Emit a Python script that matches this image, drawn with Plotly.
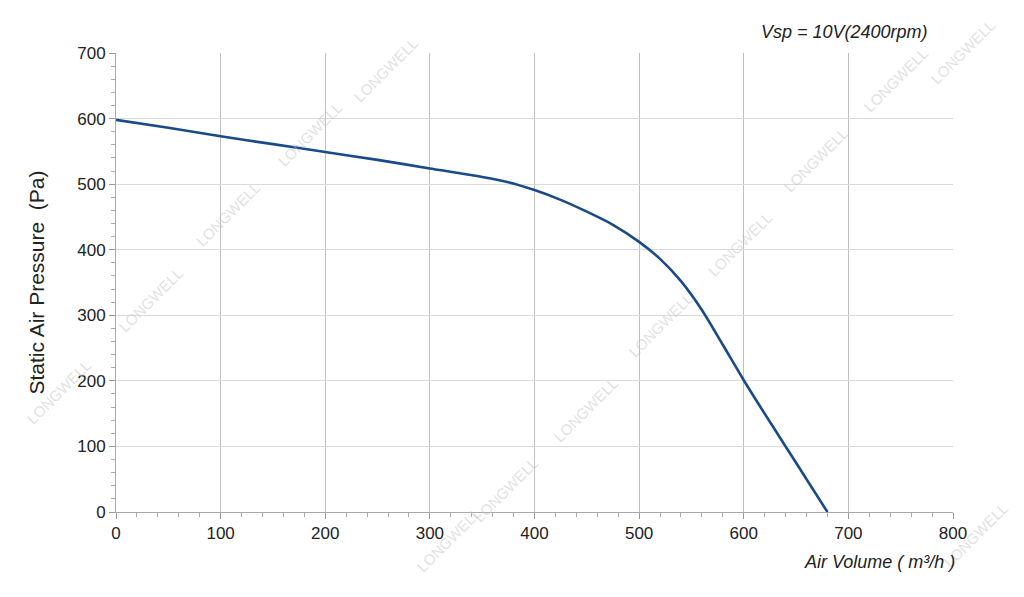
import plotly.graph_objects as go

air_volume = [0, 50, 100, 150, 200, 250, 300, 350, 375, 400, 425, 450, 475, 500, 520, 540, 560, 580, 600, 620, 640, 660, 680]
pressure = [598, 586, 573, 561, 549, 537, 524, 511, 503, 491, 476, 458, 438, 412, 386, 352, 308, 255, 201, 150, 100, 50, 0]

x_ticks = [0, 100, 200, 300, 400, 500, 600, 700, 800]
y_ticks = [0, 100, 200, 300, 400, 500, 600, 700]

# page geometry (body has 8px margin)
W, H = 1008, 581
L, R, T, B = 108, 63, 45, 77
PL, PR, PT, PB = 116, 953, 53, 512  # plot area in screenshot coords


def px2paper(px, py):
    return (px - PL) / (PR - PL), (PB - py) / (PB - PT)


fig = go.Figure()
fig.add_trace(go.Scatter(
    x=air_volume, y=pressure, mode="lines",
    line=dict(color="#1a4a8a", width=2.6, shape="spline", smoothing=0.7),
    showlegend=False, hoverinfo="skip"))

font = "Liberation Sans, Arial, sans-serif"

# faint watermarks
wm = [(58, 392), (150, 300), (228, 215), (310, 135), (385, 70),
      (448, 540), (505, 490), (585, 410), (660, 325), (740, 245), (815, 160), (895, 80), (962, 52),
      (975, 535)]
for (px, py) in wm:
    ax, ay = px2paper(px, py)
    fig.add_annotation(x=ax, y=ay, xref="paper", yref="paper",
                       text="LONGWELL", showarrow=False, textangle=-45,
                       font=dict(family=font, size=15, color="rgba(195,195,195,0.5)"),
                       xanchor="center", yanchor="middle")

fig.update_layout(
    width=W, height=H,
    paper_bgcolor="white", plot_bgcolor="white",
    margin=dict(l=L, r=R, t=T, b=B),
    font=dict(family=font, color="#222"),
    xaxis=dict(range=[0, 800], tickvals=x_ticks, ticks="outside", ticklen=6,
               tickcolor="#999", showline=True, linecolor="#aaa", linewidth=1,
               showgrid=True, gridcolor="#c0c0c0", gridwidth=1.3, zeroline=False,
               tickfont=dict(size=17, color="#222"),
               minor=dict(dtick=20, ticks="outside", ticklen=4, tickcolor="#aaa", showgrid=False)),
    yaxis=dict(range=[0, 700], tickvals=y_ticks, ticks="outside", ticklen=6,
               tickcolor="#999", showline=True, linecolor="#aaa", linewidth=1,
               showgrid=True, gridcolor="#dadada", gridwidth=1.3, zeroline=False,
               tickfont=dict(size=17, color="#222"),
               title=dict(text="Static Air Pressure  (Pa)", font=dict(size=21, color="#222"), standoff=26),
               minor=dict(dtick=20, ticks="outside", ticklen=4, tickcolor="#aaa", showgrid=False)),
)

ax, ay = px2paper(957, 562)
fig.add_annotation(x=ax, y=ay, xref="paper", yref="paper",
                   text="<i>Air Volume ( m³/h )</i>", showarrow=False,
                   xanchor="right", yanchor="middle",
                   font=dict(family=font, size=18, color="#222"))
ax, ay = px2paper(930, 32)
fig.add_annotation(x=ax, y=ay, xref="paper", yref="paper",
                   text="<i>Vsp = 10V(2400rpm)</i>", showarrow=False,
                   xanchor="right", yanchor="middle",
                   font=dict(family=font, size=18, color="#222"))

fig.write_html("out.html")
